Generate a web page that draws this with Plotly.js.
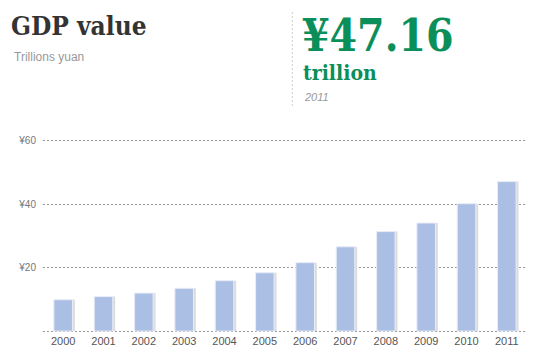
<!DOCTYPE html>
<html>
<head>
<meta charset="utf-8">
<script src="https://cdn.plot.ly/plotly-3.0.1.min.js"></script>
<style>html,body{margin:0;padding:0;background:#fff;}#chart{width:543px;height:359px;}</style>
</head>
<body>
<div id="chart"></div>
<script>
const years = ['2000','2001','2002','2003','2004','2005','2006','2007','2008','2009','2010','2011'];
const gdpTrillion = [9.9, 10.9, 12.0, 13.5, 15.9, 18.4, 21.6, 26.6, 31.4, 34.1, 40.2, 47.16];
const yTickVals = [0, 20, 40, 60];
const yTickText = ['', '¥20', '¥40', '¥60'];

const W = 543, H = 359;
const PAD = 0.6;                       // value padding so edge gridlines are drawn
const pxPerUnit = (330.7 - 140.7) / 60;
const L = 42.7, R = 526.7;
const T = 140.7 - PAD * pxPerUnit, B = 330.7 + PAD * pxPerUnit;
const px = x => (x - L) / (R - L);
const py = y => (B - y) / (B - T);
const SLAB = 'DejaVu Serif Condensed, DejaVu Serif';

const shadow = {
  type: 'bar', x: years, y: gdpTrillion,
  width: 0.46, offset: -0.17,
  marker: {color: '#dcdcdc'},
  hoverinfo: 'skip', showlegend: false
};
const bars = {
  type: 'bar', x: years, y: gdpTrillion,
  width: 0.46, offset: -0.23,
  marker: {color: '#abbfe4', line: {color: '#e9edf8', width: 1}},
  name: 'GDP', showlegend: false
};

const layout = {
  width: W, height: H,
  margin: {l: L, r: W - R, t: T, b: H - B, pad: 0},
  paper_bgcolor: '#fff', plot_bgcolor: '#fff',
  barmode: 'overlay',
  title: {
    text: 'GDP value', x: 11 / W, xanchor: 'left', y: 1 - 26 / H, yanchor: 'middle',
    font: {family: SLAB, size: 26, color: '#333', weight: 'bold'}
  },
  xaxis: {
    type: 'category', range: [-0.5, 11.5], showgrid: false, zeroline: false,
    showline: false, ticks: '', tickfont: {family: 'Liberation Sans, Arial', size: 11, color: '#555'}
  },
  yaxis: {
    range: [-PAD, 60 + PAD], tickvals: yTickVals, ticktext: yTickText,
    showgrid: true, gridcolor: '#999', gridwidth: 1, griddash: '2px,2px',
    zeroline: false, showline: false, ticks: '', ticklabelstandoff: 6,
    tickfont: {family: 'Liberation Sans, Arial', size: 10, color: '#777'}
  },
  annotations: [
    {xref: 'paper', yref: 'paper', x: px(12), y: py(57), xanchor: 'left', yanchor: 'middle',
     text: 'Trillions yuan', showarrow: false,
     font: {family: 'Liberation Sans, Arial', size: 12, color: '#999'}},
    {xref: 'paper', yref: 'paper', x: px(300), y: py(35), xanchor: 'left', yanchor: 'middle',
     text: '¥47.16', showarrow: false,
     font: {family: SLAB, size: 44, color: '#0a8f5b', weight: 'bold'}},
    {xref: 'paper', yref: 'paper', x: px(301), y: py(72), xanchor: 'left', yanchor: 'middle',
     text: 'trillion', showarrow: false,
     font: {family: SLAB, size: 21, color: '#0a8f5b', weight: 'bold'}},
    {xref: 'paper', yref: 'paper', x: px(302), y: py(97), xanchor: 'left', yanchor: 'middle',
     text: '<i>2011</i>', showarrow: false,
     font: {family: 'Liberation Sans, Arial', size: 11, color: '#999'}}
  ],
  shapes: [
    {type: 'line', xref: 'paper', yref: 'paper', x0: px(292), x1: px(292), y0: py(12), y1: py(108),
     line: {color: '#ccc', width: 1, dash: '2px,2px'}}
  ]
};

Plotly.newPlot('chart', [shadow, bars], layout, {displayModeBar: false, staticPlot: true});
</script>
</body>
</html>
